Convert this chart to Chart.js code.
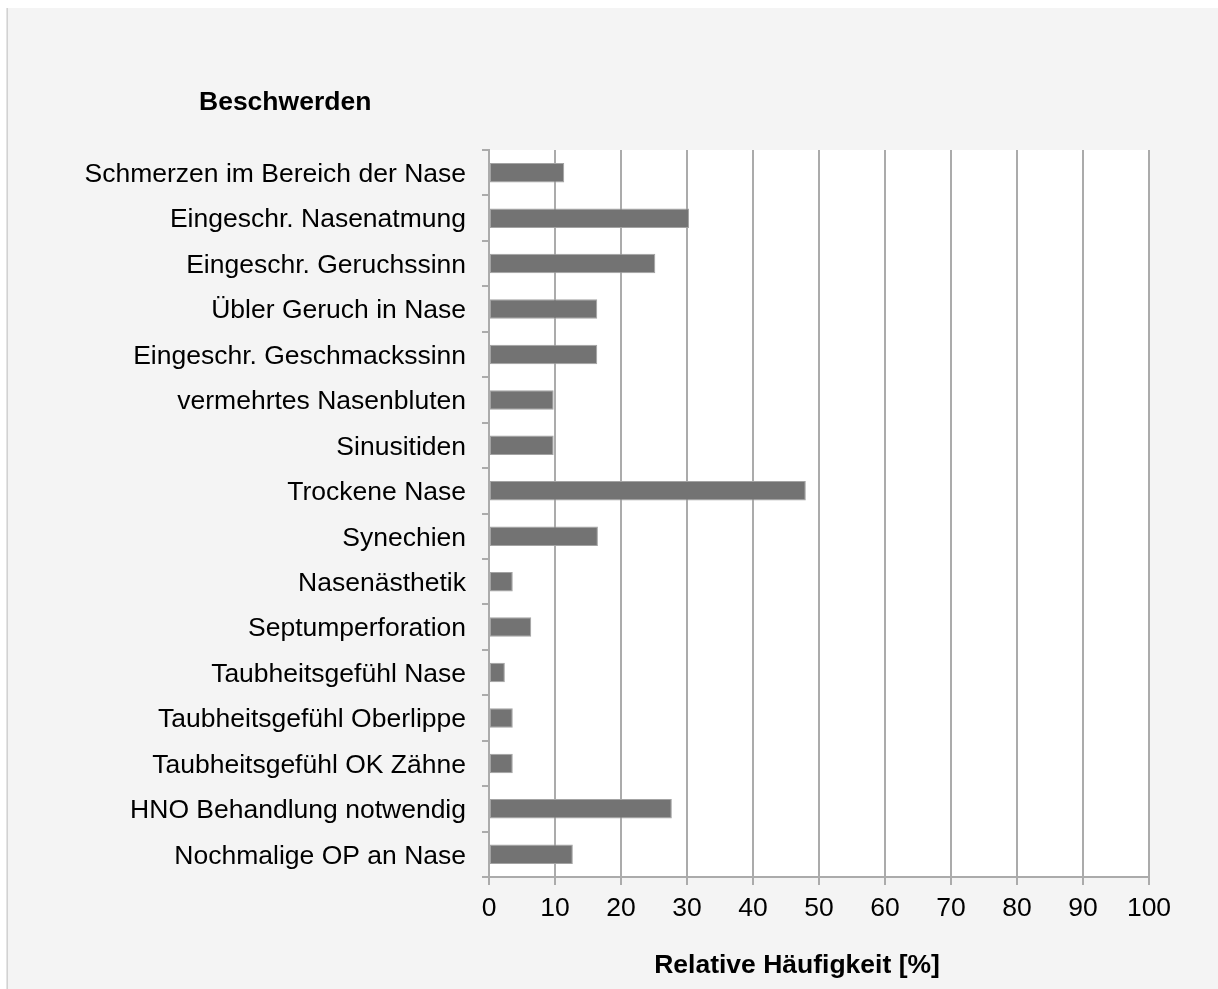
<!DOCTYPE html>
<html>
<head>
<meta charset="utf-8">
<title>Beschwerden</title>
<script src="https://cdn.jsdelivr.net/npm/chart.js@4.4.1/dist/chart.umd.min.js"></script>
<style>
  html, body { margin: 0; padding: 0; background: #ffffff; }
  canvas { display: block; }
</style>
</head>
<body>
<canvas id="chart" width="1218" height="989"></canvas>
<script>
// Complaints after nasal surgery, relative frequency in percent
const categories = [
  'Schmerzen im Bereich der Nase',
  'Eingeschr. Nasenatmung',
  'Eingeschr. Geruchssinn',
  'Übler Geruch in Nase',
  'Eingeschr. Geschmackssinn',
  'vermehrtes Nasenbluten',
  'Sinusitiden',
  'Trockene Nase',
  'Synechien',
  'Nasenästhetik',
  'Septumperforation',
  'Taubheitsgefühl Nase',
  'Taubheitsgefühl Oberlippe',
  'Taubheitsgefühl OK Zähne',
  'HNO Behandlung notwendig',
  'Nochmalige OP an Nase'
];
const frequencies = [11.4, 30.3, 25.2, 16.4, 16.4, 9.8, 9.8, 48.0, 16.5, 3.6, 6.4, 2.4, 3.6, 3.6, 27.7, 12.7];
const xTicks = [0, 10, 20, 30, 40, 50, 60, 70, 80, 90, 100];
const chartTitle = 'Beschwerden';
const axisTitle = 'Relative Häufigkeit [%]';

const FONT = '"Liberation Sans", Arial, Helvetica, sans-serif';
const GRID = '#ababab';

// Page frame, white plot background and the two headings
const decor = {
  id: 'decor',
  beforeDraw(chart) {
    const { ctx, chartArea: a, width, height } = chart;
    ctx.save();
    ctx.fillStyle = '#ffffff';
    ctx.fillRect(0, 0, width, height);
    ctx.fillStyle = '#f4f4f4';
    ctx.fillRect(8, 8, width - 8, height - 8);
    ctx.fillStyle = '#e4e4e4';
    ctx.fillRect(6, 8, 1, height - 8);
    ctx.fillStyle = '#d2d2d2';
    ctx.fillRect(7, 8, 1, height - 8);
    ctx.fillStyle = '#ffffff';
    ctx.fillRect(a.left, a.top, a.right - a.left, a.bottom - a.top);
    ctx.restore();
  },
  afterDraw(chart) {
    const { ctx } = chart;
    ctx.save();
    ctx.fillStyle = '#000000';
    ctx.font = 'bold 26.5px ' + FONT;
    ctx.textBaseline = 'alphabetic';
    ctx.textAlign = 'left';
    ctx.fillText(chartTitle, 199, 110);
    ctx.textAlign = 'center';
    ctx.fillText(axisTitle, 797, 973);
    ctx.restore();
  }
};

new Chart(document.getElementById('chart'), {
  type: 'bar',
  data: {
    labels: categories,
    datasets: [{
      data: frequencies,
      backgroundColor: '#737373',
      borderColor: '#a3a3a3',
      borderWidth: 1,
      borderSkipped: false,
      barPercentage: 0.43,
      categoryPercentage: 1.0
    }]
  },
  options: {
    indexAxis: 'y',
    responsive: false,
    devicePixelRatio: 1,
    animation: false,
    layout: { padding: { top: 150, right: 69, left: 0, bottom: 0 } },
    plugins: {
      legend: { display: false },
      title: { display: false },
      tooltip: { enabled: false }
    },
    scales: {
      x: {
        type: 'linear',
        min: 0,
        max: 100,
        afterFit(scale) { scale.height = 112; },
        afterBuildTicks(scale) { scale.ticks = xTicks.map(v => ({ value: v })); },
        grid: {
          color: GRID,
          lineWidth: 2,
          tickLength: 8,
          drawOnChartArea: true
        },
        border: { color: GRID, width: 2 },
        ticks: {
          color: '#000000',
          padding: 8,
          font: { family: FONT, size: 26.5 }
        }
      },
      y: {
        afterFit(scale) { scale.width = 489; },
        grid: {
          color: GRID,
          lineWidth: 2,
          tickLength: 7,
          offset: true,
          drawOnChartArea: false
        },
        border: { color: GRID, width: 2 },
        ticks: {
          color: '#000000',
          padding: 16,
          labelOffset: 2,
          font: { family: FONT, size: 26.5 }
        }
      }
    }
  },
  plugins: [decor]
});
</script>
</body>
</html>
